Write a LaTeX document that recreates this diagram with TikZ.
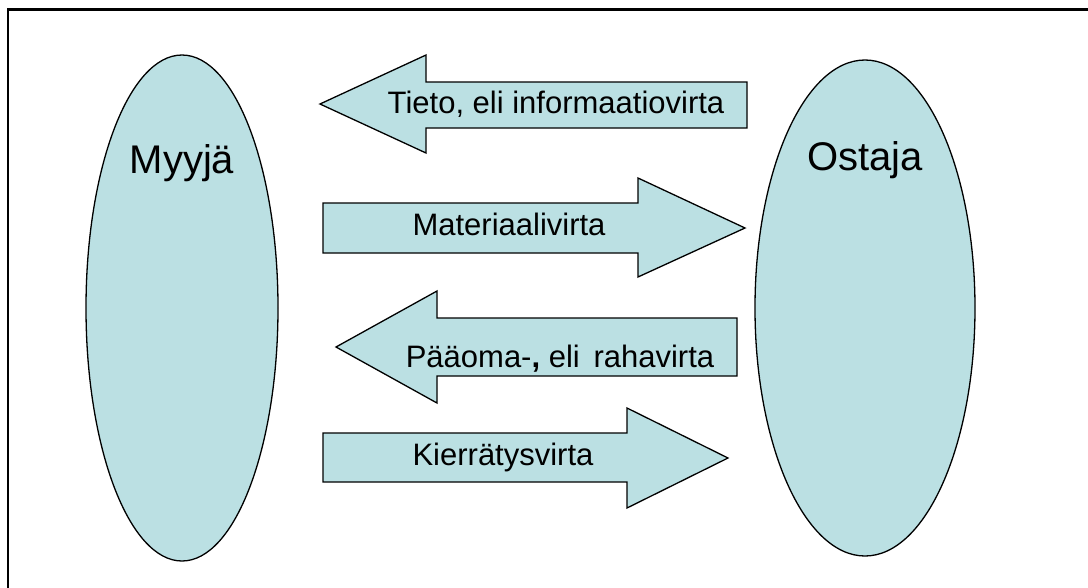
\documentclass[tikz,border=0pt]{standalone}
\usepackage{fontspec}
\setmainfont{Liberation Sans}
\definecolor{flowfill}{HTML}{BBE0E3}
\begin{document}
\begin{tikzpicture}[x=1pt,y=-1pt,
  party/.style={draw=black,line width=1.3pt,fill=flowfill},
  flowarrow/.style={draw=black,line width=1.3pt,fill=flowfill,line join=miter},
  flowtext/.style={anchor=base,inner sep=0pt,font=\fontsize{31}{36}\selectfont},
  partytext/.style={anchor=base,inner sep=0pt,font=\fontsize{40}{46}\selectfont}]
\useasboundingbox (0,0) rectangle (1088,587);
\fill[white] (0,0) rectangle (1088,587);
% outer frame, running past the page on the right and bottom
\begin{scope}
  \clip (0,0) rectangle (1088,587);
  \draw[line width=2.6pt] (8,9.5) rectangle (1100,600);
\end{scope}
% the two parties
\draw[party] (182,308) ellipse [x radius=96, y radius=253];
\draw[party] (865,308) ellipse [x radius=110, y radius=248];
\node[partytext] (myyja) at (182,173) {Myyjä};
\node[partytext] (ostaja) at (865,170) {Ostaja};
% information flow (to the seller)
\draw[flowarrow] (747,82) -- (426,82) -- (426,55) -- (320,104) -- (426,153) -- (426,128) -- (747,128) -- cycle;
\node[flowtext] (tieto) at (556,113) {Tieto, eli informaatiovirta};
% material flow (to the buyer)
\draw[flowarrow] (323,203) -- (638,203) -- (638,178) -- (745,228) -- (638,277) -- (638,253) -- (323,253) -- cycle;
\node[flowtext] (materiaali) at (509,235) {Materiaalivirta};
% capital flow (to the seller)
\draw[flowarrow] (737,318) -- (437,318) -- (437,291) -- (336,347) -- (437,403) -- (437,376) -- (737,376) -- cycle;
\node[flowtext] (paaoma) at (560,367) {Pääoma-\textbf{,} eli\, rahavirta};
% recycling flow (to the buyer)
\draw[flowarrow] (323,433) -- (627,433) -- (627,408) -- (728,458) -- (627,508) -- (627,482) -- (323,482) -- cycle;
\node[flowtext] (kierratys) at (503,465) {Kierrätysvirta};
\end{tikzpicture}
\end{document}
